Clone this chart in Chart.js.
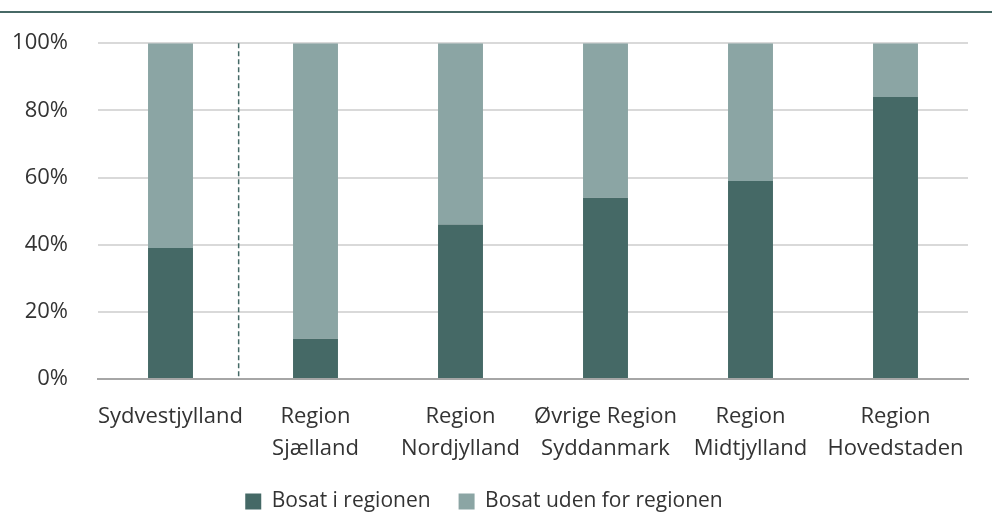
<!DOCTYPE html>
<html>
<head>
<meta charset="utf-8">
<script src="https://cdn.jsdelivr.net/npm/chart.js@4/dist/chart.umd.min.js"></script>
<style>
  html, body { margin: 0; padding: 0; background: #fff; }
  #wrap { position: relative; width: 992px; height: 516px; }
  #topline { position: absolute; left: 0; top: 11px; width: 992px; height: 2px; background: #476966; }
  canvas { position: absolute; left: 0; top: 0; }
</style>
</head>
<body>
<div id="wrap">
  <div id="topline"></div>
  <canvas id="grafico" width="992" height="516"></canvas>
</div>
<script>
// regioner
const regioner = [
  'Sydvestjylland',
  ['Region', 'Sjælland'],
  ['Region', 'Nordjylland'],
  ['Øvrige Region', 'Syddanmark'],
  ['Region', 'Midtjylland'],
  ['Region', 'Hovedstaden']
];
const bosatI = [39, 12, 46, 54, 59, 84];
const bosatUden = [61, 88, 54, 46, 41, 16];
const yTicks = [0, 20, 40, 60, 80, 100];
const skillelinje = 0.47; // stiplet linje mellem Sydvestjylland og resten

const fontFam = "'Open Sans', 'Segoe UI', sans-serif";
const tekstFarve = '#333333';
Chart.defaults.font.family = fontFam;
Chart.defaults.color = tekstFarve;

const stipletLinje = {
  id: 'stipletLinje',
  afterDatasetsDraw(chart) {
    const x = chart.scales.x.getPixelForValue(skillelinje);
    const { top, bottom } = chart.chartArea;
    const ctx = chart.ctx;
    ctx.save();
    ctx.strokeStyle = '#456966';
    ctx.lineWidth = 1.5;
    ctx.setLineDash([5, 3]);
    ctx.beginPath();
    ctx.moveTo(x, top);
    ctx.lineTo(x, bottom);
    ctx.stroke();
    ctx.restore();
  }
};

new Chart(document.getElementById('grafico'), {
  type: 'bar',
  data: {
    labels: regioner,
    datasets: [
      { label: 'Bosat i regionen', data: bosatI, backgroundColor: '#456966', barPercentage: 0.62, categoryPercentage: 0.5 },
      { label: 'Bosat uden for regionen', data: bosatUden, backgroundColor: '#8ba5a4', barPercentage: 0.62, categoryPercentage: 0.5 }
    ]
  },
  options: {
    responsive: false,
    animation: false,
    layout: { padding: { top: 43, right: 24, left: 0, bottom: 0 } },
    plugins: {
      tooltip: { enabled: false },
      legend: {
        position: 'bottom',
        maxHeight: 53,
        labels: {
          boxWidth: 16,
          boxHeight: 16,
          padding: 28,
          font: { size: 21 },
          color: tekstFarve
        }
      }
    },
    scales: {
      x: {
        stacked: true,
        grid: { display: false, drawTicks: false },
        border: { color: '#a6a6a6', width: 2 },
        ticks: {
          padding: 22,
          maxRotation: 0,
          autoSkip: false,
          font: { size: 22, lineHeight: 1.45 },
          color: tekstFarve
        },
        afterFit(scale) { scale.height = 84; }
      },
      y: {
        stacked: true,
        min: 0,
        max: 100,
        afterBuildTicks(scale) { scale.ticks = yTicks.map(v => ({ value: v })); },
        grid: { color: '#d9d9d9', lineWidth: 2, drawTicks: false },
        border: { display: false },
        ticks: {
          padding: 30,
          callback: v => v + '%',
          font: { size: 22 },
          color: tekstFarve
        },
        afterFit(scale) { scale.width = 98; }
      }
    }
  },
  plugins: [stipletLinje]
});
</script>
</body>
</html>
